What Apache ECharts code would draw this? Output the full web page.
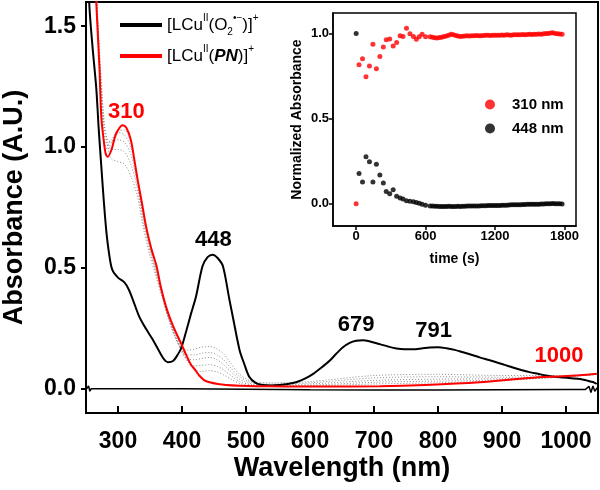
<!DOCTYPE html>
<html>
<head>
<meta charset="utf-8">
<script src="https://cdn.jsdelivr.net/npm/echarts@6/dist/echarts.min.js"></script>
<style>html,body{margin:0;padding:0;background:#fff}#c{width:600px;height:490px}</style>
</head>
<body>
<div id="c"></div>
<script>
// ---- Main spectra data ----
const o2Wl = [252,255,260,266,270,274,278,282,286,291,300,310,317,323,333,344,354,365,372,378,386,393,399,406,414,422,432,440,448,456,464,474,480,490,497,505,515,526,540,552,565,578,592,605,618,631,641,651,662,672,683,695,709,722,735,748,761,774,787,800,813,826,839,852,865,878,891,904,917,930,943,956,969,982,995,1008,1022,1032,1038,1043,1048];
const o2Abs = [2.0,1.6,1.42,1.245,1.07,0.917,0.77,0.645,0.56,0.493,0.46,0.44,0.41,0.37,0.30,0.247,0.205,0.152,0.122,0.11,0.115,0.14,0.17,0.233,0.31,0.383,0.507,0.545,0.555,0.54,0.507,0.37,0.29,0.16,0.105,0.05,0.025,0.016,0.014,0.016,0.02,0.027,0.042,0.062,0.088,0.117,0.145,0.171,0.19,0.199,0.201,0.195,0.185,0.175,0.167,0.164,0.164,0.167,0.171,0.172,0.168,0.161,0.151,0.141,0.13,0.12,0.11,0.099,0.088,0.078,0.069,0.062,0.055,0.05,0.047,0.044,0.041,0.035,0.03,0.027,0.02];

const pnWl = [258,262,266,271,274,278,281,284,290,295,300,307,313,320,326,331,338,344,352,360,367,375,383,391,400,407,414,420,427,435,443,456,469,490,516,560,620,709,780,865,943,995,1020,1048];
const pnAbs = [2.3,1.9,1.6,1.33,1.12,1.02,0.97,0.96,0.99,1.04,1.07,1.09,1.08,1.03,0.94,0.86,0.76,0.67,0.58,0.51,0.42,0.34,0.28,0.23,0.18,0.137,0.1,0.08,0.055,0.035,0.027,0.02,0.016,0.013,0.011,0.01,0.01,0.011,0.016,0.027,0.045,0.052,0.056,0.062];

const grayWl = [262,270,278,284,290,300,310,320,330,340,350,360,370,380,390,400,410,420,430,443,455,465,475,490,510,540,600,700,800,900,1000,1048];
const gray1 = [1.9,1.45,1.12,1.0,0.95,0.94,0.93,0.88,0.80,0.66,0.55,0.46,0.37,0.28,0.21,0.17,0.16,0.165,0.172,0.175,0.165,0.145,0.11,0.06,0.03,0.025,0.03,0.055,0.06,0.055,0.055,0.06];
const gray2 = [1.9,1.44,1.1,1.02,0.99,0.99,0.98,0.93,0.83,0.68,0.57,0.47,0.37,0.28,0.21,0.16,0.14,0.14,0.147,0.15,0.14,0.12,0.09,0.05,0.025,0.02,0.025,0.045,0.05,0.048,0.052,0.06];
const gray3 = [1.9,1.42,1.08,1.03,1.02,1.03,1.02,0.97,0.85,0.70,0.58,0.48,0.38,0.29,0.21,0.155,0.125,0.12,0.125,0.13,0.12,0.10,0.075,0.04,0.02,0.017,0.02,0.035,0.04,0.042,0.05,0.06];
const gray4 = [1.9,1.41,1.05,1.01,1.03,1.06,1.05,1.0,0.87,0.71,0.59,0.49,0.39,0.29,0.22,0.15,0.11,0.095,0.097,0.10,0.093,0.078,0.058,0.03,0.016,0.013,0.015,0.027,0.032,0.037,0.05,0.06];
const gray5 = [1.9,1.40,1.03,0.99,1.02,1.07,1.07,1.02,0.88,0.72,0.60,0.50,0.39,0.30,0.23,0.16,0.11,0.08,0.072,0.075,0.07,0.058,0.042,0.022,0.013,0.011,0.012,0.02,0.025,0.034,0.05,0.06];

const baseWl = [251,254,256,258,262,300,400,500,600,700,800,900,1000,1030,1036,1039,1042,1045,1049];
const baseAbs = [0.0,0.012,-0.01,0.0,0.0,0.0,0.0,-0.002,-0.004,-0.005,-0.005,-0.004,-0.003,-0.003,0.01,-0.015,0.012,-0.01,0.005];

const xTicks = [300,400,500,600,700,800,900,1000];
const yTicks = [0,0.5,1.0,1.5];

// ---- Inset kinetics data ----
const kinTime = [0,25,55,85,115,145,175,205,235,260,290,320,350,380,405,435,465,495,520,545,570,600,
  640,660,680,700,720,740,760,780,800,820,840,860,880,900,920,940,960,980,1000,1020,1040,1060,1080,1100,1120,1140,1160,1180,
  1200,1220,1240,1260,1280,1300,1320,1340,1360,1380,1400,1420,1440,1460,1480,1500,1520,1540,1560,1580,1600,1620,1640,1660,1680,1700,1720,1740,1760,1780];
const kin310 = [0.0,0.817,0.852,0.746,0.809,0.937,0.793,0.864,0.921,0.963,0.968,0.927,0.947,0.986,0.982,1.03,0.998,0.982,0.966,0.98,0.996,0.98,
  0.98,0.978,0.975,0.973,0.976,0.978,0.982,0.985,0.99,0.995,0.992,0.988,0.985,
  0.982,0.984,0.985,0.986,0.985,0.986,0.987,0.988,0.987,0.986,0.988,0.99,0.989,0.988,0.99,
  0.99,0.989,0.99,0.991,0.99,0.992,0.991,0.99,0.992,0.993,0.992,0.993,0.994,0.993,0.994,
  0.995,0.994,0.996,0.995,0.997,0.996,0.998,0.999,1.0,1.003,1.004,1.0,0.998,0.997,0.996];
const kin448 = [1.0,0.178,0.128,0.276,0.247,0.128,0.233,0.17,0.122,0.073,0.059,0.083,0.045,0.034,0.028,0.018,0.015,0.012,0.008,0.003,-0.002,-0.008,
  -0.012,-0.013,-0.014,-0.014,-0.015,-0.015,-0.015,-0.015,-0.014,-0.015,-0.015,-0.015,-0.014,
  -0.015,-0.014,-0.014,-0.013,-0.013,-0.013,-0.012,-0.012,-0.012,-0.011,-0.011,-0.011,-0.01,-0.01,-0.01,
  -0.01,-0.009,-0.009,-0.008,-0.008,-0.008,-0.007,-0.006,-0.006,-0.005,-0.005,-0.005,-0.004,-0.004,-0.003,
  -0.003,-0.003,-0.002,-0.002,-0.002,-0.001,-0.001,0.0,0.0,0.001,0.002,0.001,0.0,0.0,-0.001];
const insetXTicks = [0,600,1200,1800];
const insetYTicks = [0,0.5,1.0];

const zip = (a, b) => a.map((v, i) => [v, b[i]]);
const FONT = 'Liberation Sans';

const grayStyle = { color: '#8c8c8c', width: 1, type: [1, 2] };
const graySeries = [gray1, gray2, gray3, gray4, gray5].map((g, i) => ({
  name: 'g' + i, type: 'line', xAxisIndex: 0, yAxisIndex: 0, symbol: 'none', smooth: 0.3,
  lineStyle: grayStyle, data: zip(grayWl, g), silent: true, z: 2
}));

const ann = (name, coord) => ({ name, coord });

const option = {
  animation: false,
  textStyle: { fontFamily: FONT },
  grid: [
    { left: 86, right: 2, top: 2, bottom: 77, show: true, borderColor: '#000', borderWidth: 2, backgroundColor: 'transparent', containLabel: false, outerBoundsMode: 'none' },
    { left: 333, right: 24, top: 13, bottom: 264, show: true, borderColor: '#000', borderWidth: 1.5, backgroundColor: '#fff', z: 10, containLabel: false, outerBoundsMode: 'none' }
  ],
  legend: [
    {
      data: ['o2', 'pn'], orient: 'vertical', left: 120, top: 13, padding: 0, itemWidth: 42, itemHeight: 14, itemGap: 7,
      selectedMode: false, icon: 'path://M0,0L10,0L10,1L0,1Z',
      textStyle: {
        fontFamily: FONT, color: '#000',
        rich: {
          n: { fontSize: 17, fontFamily: FONT, lineHeight: 24, color: '#000' },
          s: { fontSize: 10, fontFamily: FONT, lineHeight: 10, verticalAlign: 'top', color: '#000' },
          b: { fontSize: 10, fontFamily: FONT, lineHeight: 10, verticalAlign: 'bottom', color: '#000' },
          bi: { fontSize: 17, fontFamily: FONT, lineHeight: 24, fontWeight: 'bold', fontStyle: 'italic', color: '#000' }
        }
      },
      formatter: n => n === 'o2'
        ? '{n|[LCu}{s|II}{n|(O}{b|2}{s|•−}{n|)]}{s|+}'
        : '{n|[LCu}{s|II}{n|(}{bi|PN}{n|)]}{s|+}'
    },
    {
      data: ['310 nm', '448 nm'], orient: 'vertical', left: 480, top: 92, itemWidth: 10, itemHeight: 10, itemGap: 9,
      selectedMode: false, icon: 'circle', z: 20,
      textStyle: { fontFamily: FONT, fontSize: 15, fontWeight: 'bold', color: '#000', padding: [0, 0, 0, 12] }
    }
  ],
  xAxis: [
    {
      gridIndex: 0, type: 'value', min: 250, max: 1050,
      name: 'Wavelength (nm)', nameLocation: 'middle', nameGap: 42, nameMoveOverlap: false,
      nameTextStyle: { fontFamily: FONT, fontSize: 27, fontWeight: 'bold', color: '#000' },
      axisLine: { onZero: false, lineStyle: { color: '#000', width: 2 } },
      axisTick: { inside: true, length: 7, lineStyle: { color: '#000', width: 2 }, customValues: xTicks },
      axisLabel: { customValues: xTicks, margin: 17, fontFamily: FONT, fontSize: 23, fontWeight: 'bold', color: '#000', formatter: v => String(v) },
      splitLine: { show: false }
    },
    {
      gridIndex: 1, type: 'value', min: -200, max: 1900,
      name: 'time (s)', nameLocation: 'middle', nameGap: 26, nameMoveOverlap: false,
      nameTextStyle: { fontFamily: FONT, fontSize: 14, fontWeight: 'bold', color: '#000' },
      axisLine: { onZero: false, lineStyle: { color: '#000', width: 1.5 } },
      axisTick: { inside: false, length: 4, lineStyle: { color: '#000', width: 1.5 }, customValues: insetXTicks },
      axisLabel: { customValues: insetXTicks, margin: 4, fontFamily: FONT, fontSize: 13, fontWeight: 'bold', color: '#000', formatter: v => String(v) },
      splitLine: { show: false }, z: 10
    }
  ],
  yAxis: [
    {
      gridIndex: 0, type: 'value', min: -0.1, max: 1.6,
      name: 'Absorbance (A.U.)', nameLocation: 'middle', nameGap: 58, nameMoveOverlap: false,
      nameTextStyle: { fontFamily: FONT, fontSize: 27, fontWeight: 'bold', color: '#000' },
      axisLine: { onZero: false, lineStyle: { color: '#000', width: 2 } },
      axisTick: { inside: false, length: 5, lineStyle: { color: '#000', width: 2 }, customValues: yTicks },
      axisLabel: { customValues: yTicks, margin: 10, fontFamily: FONT, fontSize: 23, fontWeight: 'bold', color: '#000', formatter: v => v.toFixed(1) },
      splitLine: { show: false }
    },
    {
      gridIndex: 1, type: 'value', min: -0.13, max: 1.12,
      name: 'Normalized Absorbance', nameLocation: 'middle', nameGap: 29, nameMoveOverlap: false,
      nameTextStyle: { fontFamily: FONT, fontSize: 14, fontWeight: 'bold', color: '#000' },
      axisLine: { onZero: false, lineStyle: { color: '#000', width: 1.5 } },
      axisTick: { inside: false, length: 4, lineStyle: { color: '#000', width: 1.5 }, customValues: insetYTicks },
      axisLabel: { customValues: insetYTicks, margin: 4, fontFamily: FONT, fontSize: 13, fontWeight: 'bold', color: '#000', formatter: v => v.toFixed(1) },
      splitLine: { show: false }, z: 10
    }
  ],
  series: [
    ...graySeries,
    {
      name: 'o2', type: 'line', xAxisIndex: 0, yAxisIndex: 0, symbol: 'none', smooth: 0.3,
      color: '#000', lineStyle: { color: '#000', width: 2 }, data: zip(o2Wl, o2Abs), z: 4,
      markPoint: {
        symbol: 'circle', symbolSize: 0, silent: true,
        label: { show: true, position: 'inside', formatter: p => p.name, fontFamily: FONT, fontSize: 22, fontWeight: 'bold', color: '#000' },
        data: [ann('448', [449, 0.617]), ann('679', [672, 0.265]), ann('791', [793, 0.238])]
      }
    },
    {
      name: 'pn', type: 'line', xAxisIndex: 0, yAxisIndex: 0, symbol: 'none', smooth: 0.3,
      color: '#ff0000', lineStyle: { color: '#ff0000', width: 2 }, data: zip(pnWl, pnAbs), z: 5,
      markPoint: {
        symbol: 'circle', symbolSize: 0, silent: true,
        label: { show: true, position: 'inside', formatter: p => p.name, fontFamily: FONT, fontSize: 22, fontWeight: 'bold', color: '#ff0000' },
        data: [ann('310', [313, 1.147]), ann('1000', [989, 0.136])]
      }
    },
    {
      name: 'baseline', type: 'line', xAxisIndex: 0, yAxisIndex: 0, symbol: 'none',
      lineStyle: { color: '#000', width: 1.5 }, data: zip(baseWl, baseAbs), z: 6, silent: true
    },
    {
      name: '310 nm', type: 'scatter', xAxisIndex: 1, yAxisIndex: 1, symbol: 'circle', symbolSize: 5,
      color: '#ff0000', itemStyle: { color: '#ff0000' }, data: zip(kinTime, kin310), z: 12
    },
    {
      name: '448 nm', type: 'scatter', xAxisIndex: 1, yAxisIndex: 1, symbol: 'circle', symbolSize: 5,
      color: '#000', itemStyle: { color: '#000' }, data: zip(kinTime, kin448), z: 12
    }
  ]
};

const chart = echarts.init(document.getElementById('c'), null, { renderer: 'canvas' });
chart.setOption(option);
</script>
</body>
</html>
